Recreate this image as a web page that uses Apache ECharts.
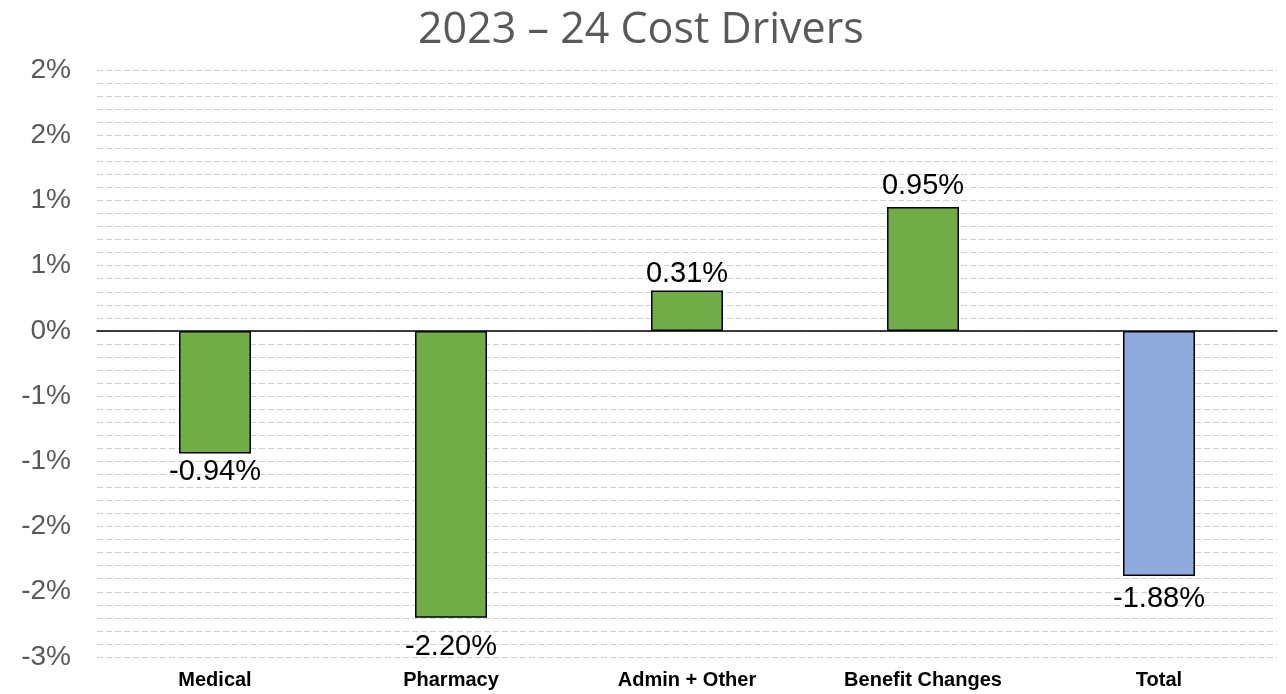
<!DOCTYPE html>
<html>
<head>
<meta charset="utf-8">
<script src="https://cdn.jsdelivr.net/npm/echarts@6/dist/echarts.min.js"></script>
<style>
  html, body { margin: 0; padding: 0; background: #fff; }
  #chart { width: 1286px; height: 694px; }
</style>
</head>
<body>
<div id="chart"></div>
<script>
// chart data (percent units)
const categories = ['Medical', 'Pharmacy', 'Admin + Other', 'Benefit Changes', 'Total'];
const values = [-0.94, -2.20, 0.31, 0.95, -1.88];
const barColors = ['#70AD47', '#70AD47', '#70AD47', '#70AD47', '#8FAADC'];
const labelGaps = [4, 15, 2, 6, 8];

const chart = echarts.init(document.getElementById('chart'));

// Excel-style rounding of tick labels (half away from zero)
function tickLabel(v) {
  const r = Math.sign(v) * Math.round(Math.abs(v));
  return (r === 0 ? 0 : r) + '%';
}

const option = {
  animation: false,
  title: {
    text: '2023 \u2013 24 Cost Drivers',
    left: 413,
    top: 4,
    textStyle: {
      fontFamily: 'Open Sans',
      fontWeight: 'normal',
      fontSize: 43,
      color: '#595959'
    }
  },
  grid: {
    left: 97,
    right: 9,
    top: 70,
    bottom: 37
  },
  xAxis: {
    type: 'category',
    data: categories,
    axisTick: { show: false },
    axisLine: {
      onZero: true,
      lineStyle: { color: '#000', width: 1.5 }
    },
    axisLabel: { show: false }
  },
  yAxis: {
    type: 'value',
    min: -2.5,
    max: 2,
    interval: 0.5,
    axisLine: { show: false },
    axisTick: { show: false },
    axisLabel: {
      margin: 26,
      fontFamily: 'Liberation Sans',
      fontSize: 28,
      color: '#595959',
      formatter: tickLabel
    },
    splitLine: {
      lineStyle: { color: '#d0d0d0', type: [6, 3], width: 1 }
    },
    minorTick: { show: false, splitNumber: 5 },
    minorSplitLine: {
      show: true,
      lineStyle: { color: '#d0d0d0', type: [6, 3], width: 1 }
    }
  },
  series: [{
    type: 'bar',
    barWidth: 72,
    data: values.map(function (v, i) {
      return {
        value: v,
        itemStyle: { color: barColors[i], borderColor: '#000', borderWidth: 1.5 },
        label: {
          show: true,
          position: v < 0 ? 'bottom' : 'top',
          distance: labelGaps[i],
          formatter: v.toFixed(2) + '%',
          fontFamily: 'Liberation Sans',
          fontSize: 29,
          color: '#000'
        }
      };
    })
  }]
};

chart.setOption(option);

// category labels sit below the plot, not at the zero line
chart.setOption({
  graphic: categories.map(function (c, i) {
    const p = chart.convertToPixel({ xAxisIndex: 0, yAxisIndex: 0 }, [i, -2.5]);
    return {
      type: 'text',
      x: p[0],
      y: p[1] + 23,
      style: {
        text: c,
        align: 'center',
        verticalAlign: 'middle',
        font: 'bold 20px "Liberation Sans"',
        fill: '#000'
      }
    };
  })
});
</script>
</body>
</html>
